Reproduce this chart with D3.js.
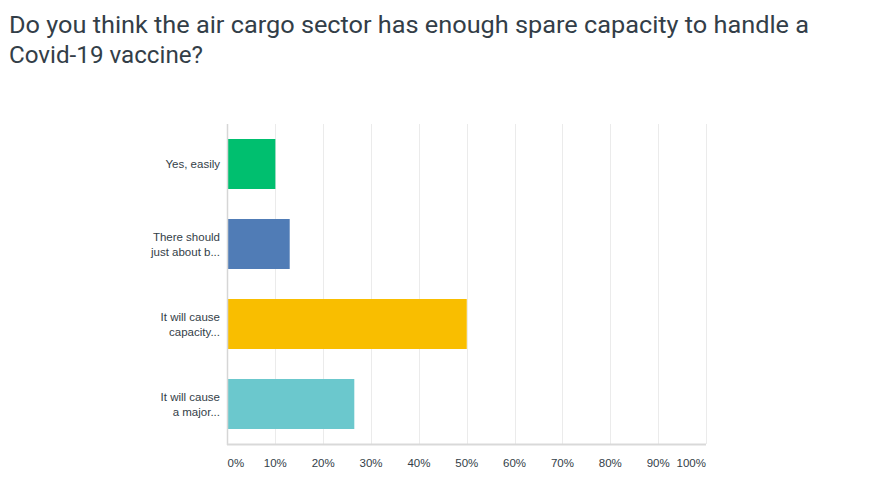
<!DOCTYPE html>
<html><head><meta charset="utf-8">
<script src="https://cdn.jsdelivr.net/npm/d3@7"></script>
<style>body{margin:0;background:#fff;} svg{display:block;}</style>
</head><body>
<script>
const titleLines = ["Do you think the air cargo sector has enough spare capacity to handle a", "Covid-19 vaccine?"];
const categories = ["Yes, easily", "There should just about b...", "It will cause capacity...", "It will cause a major..."];
const labelLines = [["Yes, easily"], ["There should", "just about b..."], ["It will cause", "capacity..."], ["It will cause", "a major..."]];
const values = [0.10, 0.13, 0.50, 0.265];
const colors = ["#00BF6F", "#507CB6", "#F9BE00", "#6BC8CD"];
const tickValues = [0, 0.1, 0.2, 0.3, 0.4, 0.5, 0.6, 0.7, 0.8, 0.9, 1.0];

const W = 884, H = 483;
const svg = d3.select("body").append("svg").attr("width", W).attr("height", H);

const font = "'Liberation Sans', Arial, sans-serif";
const titleWidths = [800, 194];
svg.append("g").selectAll("text").data(titleLines).join("text")
  .attr("x", 9).attr("y", (d, i) => 33 + i * 30)
  .attr("font-family", "Roboto, sans-serif").attr("font-size", 24).attr("font-weight", 400)
  .attr("fill", "#333e48")
  .attr("textLength", (d, i) => titleWidths[i]).attr("lengthAdjust", "spacingAndGlyphs")
  .text(d => d);

const x = d3.scaleLinear().domain([0, 1]).range([227.5, 706]);
const y = d3.scaleBand().domain(categories).range([124, 444]).paddingInner(0.375).paddingOuter(0.1875);

// gridlines
svg.append("g").selectAll("line").data(tickValues.slice(1)).join("line")
  .attr("x1", d => Math.round(x(d)) + 0.5).attr("x2", d => Math.round(x(d)) + 0.5)
  .attr("y1", 124).attr("y2", 444)
  .attr("stroke", "#ebebeb").attr("stroke-width", 1);

// bars
svg.append("g").selectAll("rect").data(categories).join("rect")
  .attr("x", x(0)).attr("y", d => y(d))
  .attr("width", (d, i) => x(values[i]) - x(0)).attr("height", y.bandwidth())
  .attr("fill", (d, i) => colors[i]);

// axes lines
svg.append("line").attr("x1", 227.5).attr("x2", 227.5).attr("y1", 124).attr("y2", 445)
  .attr("stroke", "#d6d6d6").attr("stroke-width", 1.5);
svg.append("line").attr("x1", 227).attr("x2", 706).attr("y1", 444.5).attr("y2", 444.5)
  .attr("stroke", "#d9d9d9").attr("stroke-width", 2);

// x tick labels
svg.append("g").selectAll("text").data(tickValues).join("text")
  .attr("x", d => x(d))
  .attr("text-anchor", (d, i) => i === 0 ? "start" : (i === tickValues.length - 1 ? "end" : "middle"))
  .attr("y", 467)
  .attr("font-family", font).attr("font-size", 11.5).attr("fill", "#333e48")
  .text(d => d3.format(".0%")(d));

// category labels
const lg = svg.append("g").selectAll("text").data(categories).join("text")
  .attr("text-anchor", "end")
  .attr("font-family", font).attr("font-size", 11.5).attr("fill", "#333e48");
lg.each(function (d, i) {
  const lines = labelLines[i];
  const cy = y(d) + y.bandwidth() / 2;
  const lh = 15;
  const start = cy - (lines.length - 1) * lh / 2 + 4;
  d3.select(this).selectAll("tspan").data(lines).join("tspan")
    .attr("x", 220).attr("y", (t, j) => start + j * lh).text(t => t);
});
</script>
</body></html>
